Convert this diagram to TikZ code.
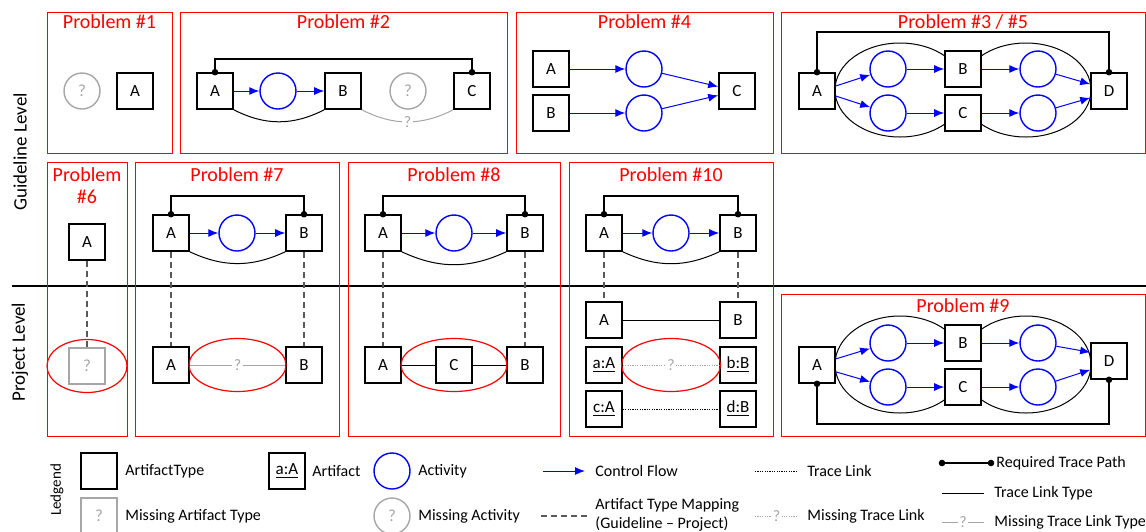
\documentclass[tikz,border=0pt]{standalone}
\usepackage{fontspec}
\setmainfont{Carlito}
\usepackage{tikz}
\usetikzlibrary{arrows.meta}
\usetikzlibrary{positioning}
\tikzstyle{atype}=[draw,fill=white,rectangle,minimum size=18pt,inner sep=0pt,line width=0.8pt,font=\fontsize{8.5}{10}\selectfont]
\tikzstyle{matype}=[atype,draw=black!35,text=black!35,line width=0.6pt]
\tikzstyle{activity}=[draw=blue,circle,minimum size=18pt,inner sep=0pt,line width=0.7pt]
\tikzstyle{mactivity}=[activity,draw=black!35,text=black!35,font=\fontsize{8.5}{10}\selectfont]
\tikzstyle{problem}=[draw=red,line width=0.5pt]
\tikzstyle{ptitle}=[text=red,font=\fontsize{10}{11}\selectfont,anchor=base,inner sep=0pt]
\tikzstyle{cflow}=[draw=blue,line width=0.5pt,-{Latex[length=5pt,width=4pt]}]
\tikzstyle{reqpath}=[line width=1pt,{Circle[length=3.2pt]}-{Circle[length=3.2pt]},shorten <=-1.6pt,shorten >=-1.6pt]
\tikzstyle{tltype}=[line width=0.5pt]
\tikzstyle{mtltype}=[line width=0.5pt,draw=black!35]
\tikzstyle{tlink}=[line width=0.5pt,dash pattern=on 0.6pt off 0.6pt]
\tikzstyle{mtlink}=[tlink,draw=black!35]
\tikzstyle{amap}=[line width=0.6pt,draw=black!65,dash pattern=on 3pt off 2pt]
\tikzstyle{qmark}=[fill=white,inner sep=0.8pt,text=black!35,font=\fontsize{8}{9}\selectfont]
\tikzstyle{miss}=[draw=red,line width=0.6pt]
\tikzstyle{lgtext}=[anchor=west,inner sep=0pt,font=\fontsize{8}{9.5}\selectfont]
\begin{document}
\begin{tikzpicture}[x=0.5pt,y=-0.5pt]
\useasboundingbox (0,0) rectangle (1146,531);

% levels
\node[rotate=90,font=\fontsize{9.5}{11}\selectfont] (glevel) at (20,152) {Guideline Level};
\node[rotate=90,font=\fontsize{9.5}{11}\selectfont] (plevel) at (20,352) {Project Level};
\draw[line width=0.6pt] (12,286) -- (1146,286);

% Problem 1
\draw[problem] (47,12) rectangle (172,153);
\node[ptitle] (t1) at (109.5,28) {Problem \#1};
\node[mactivity] (k1) at (82,91) {?};
\node[atype] (a1) at (135,91) {A};

% Problem 2
\draw[problem] (180,12) rectangle (507,153);
\node[ptitle] (t2) at (343.5,28) {Problem \#2};
\node[atype] (a2) at (215,91) {A};
\node[activity] (k2) at (278,91) {};
\node[atype] (b2) at (343,91) {B};
\node[mactivity] (k2m) at (408,91) {?};
\node[atype] (c2) at (472,91) {C};
\draw[cflow] (a2) -- (k2);
\draw[cflow] (k2) -- (b2);
\draw[tltype] (a2.south east) to[bend right=27] (b2.south west);
\draw[mtltype] (b2.south east) to[bend right=27] node[qmark] {?} (c2.south west);
\draw[reqpath] (a2.north) -- ++(0,-13) -| (c2.north);

% Problem 4
\draw[problem] (516,12) rectangle (773,153);
\node[ptitle] (t4) at (644.5,28) {Problem \#4};
\node[atype] (a4) at (551,69) {A};
\node[atype] (b4) at (551,113) {B};
\node[activity] (k4a) at (644,69) {};
\node[activity] (k4b) at (644,113) {};
\node[atype] (c4) at (737,91) {C};
\draw[cflow] (a4) -- (k4a);
\draw[cflow] (b4) -- (k4b);
\draw[cflow] (k4a) -- (c4.167);
\draw[cflow] (k4b) -- (c4.193);

% Problem 3 / 5
\draw[problem] (781,12) rectangle (1145,153);
\node[ptitle] (t35) at (963,28) {Problem \#3 / \#5};
\begin{scope}
  \clip (820,20) rectangle (945,150);
  \draw[tltype] (900,90) ellipse [x radius=65, y radius=47];
\end{scope}
\begin{scope}
  \clip (981,20) rectangle (1106,150);
  \draw[tltype] (1026,90) ellipse [x radius=65, y radius=47];
\end{scope}
\node[atype] (a35) at (817,91) {A};
\node[activity] (k35a) at (888,69) {};
\node[activity] (k35b) at (888,113) {};
\node[atype] (b35) at (963,69) {B};
\node[atype] (c35) at (963,113) {C};
\node[activity] (k35c) at (1038,69) {};
\node[activity] (k35d) at (1038,113) {};
\node[atype] (d35) at (1109,91) {D};
\draw[cflow] (a35.15) -- (k35a);
\draw[cflow] (a35.-15) -- (k35b);
\draw[cflow] (k35a) -- (b35);
\draw[cflow] (k35b) -- (c35);
\draw[cflow] (b35) -- (k35c);
\draw[cflow] (c35) -- (k35d);
\draw[cflow] (k35c) -- (d35.160);
\draw[cflow] (k35d) -- (d35.200);
\draw[reqpath] (a35.north) -- ++(0,-40) -| (d35.north);

% Problem 6
\draw[problem] (47,162) rectangle (127,436);
\node[ptitle,anchor=north,align=center] (t6) at (87,167) {Problem\\\#6};
\node[atype] (a6) at (87,242) {A};
\node[matype] (a6p) at (87,366) {?};
\draw[amap] (a6) -- (a6p);
\draw[miss] (87,366) ellipse [x radius=40, y radius=26.5];

% Problem 7
\draw[problem] (135,162) rectangle (339,436);
\node[ptitle] (t7) at (237,181) {Problem \#7};
\node[atype] (a7) at (171,233) {A};
\node[activity] (k7) at (237,233) {};
\node[atype] (b7) at (304,233) {B};
\node[atype] (a7p) at (171,365) {A};
\node[atype] (b7p) at (304,365) {B};
\draw[cflow] (a7) -- (k7);
\draw[cflow] (k7) -- (b7);
\draw[tltype] (a7.south east) to[bend right=25] (b7.south west);
\draw[reqpath] (a7.north) -- ++(0,-18) -| (b7.north);
\draw[amap] (a7) -- (a7p);
\draw[amap] (b7) -- (b7p);
\draw[mtltype] (a7p) -- node[qmark] {?} (b7p);
\draw[miss] (237.5,365) ellipse [x radius=48.5, y radius=26.5];

% Problem 8
\draw[problem] (348,162) rectangle (560,436);
\node[ptitle] (t8) at (454,181) {Problem \#8};
\node[atype] (a8) at (383,233) {A};
\node[activity] (k8) at (454,233) {};
\node[atype] (b8) at (525,233) {B};
\node[atype] (a8p) at (383,365) {A};
\node[atype] (c8p) at (454,365) {C};
\node[atype] (b8p) at (525,365) {B};
\draw[cflow] (a8) -- (k8);
\draw[cflow] (k8) -- (b8);
\draw[tltype] (a8.south east) to[bend right=25] (b8.south west);
\draw[reqpath] (a8.north) -- ++(0,-18) -| (b8.north);
\draw[amap] (a8) -- (a8p);
\draw[amap] (b8) -- (b8p);
\draw[tltype] (a8p) -- (c8p);
\draw[tltype] (c8p) -- (b8p);
\draw[miss] (454,365) ellipse [x radius=53, y radius=26.5];

% Problem 10
\draw[problem] (569,162) rectangle (773,436);
\node[ptitle] (t10) at (671,181) {Problem \#10};
\node[atype] (a10) at (604,233) {A};
\node[activity] (k10) at (671,233) {};
\node[atype] (b10) at (738,233) {B};
\node[atype] (a10p) at (604,320) {A};
\node[atype] (b10p) at (738,320) {B};
\node[atype] (aa10) at (604,365) {\underline{a:A}};
\node[atype] (bb10) at (738,365) {\underline{b:B}};
\node[atype] (cc10) at (604,409) {\underline{c:A}};
\node[atype] (dd10) at (738,409) {\underline{d:B}};
\draw[cflow] (a10) -- (k10);
\draw[cflow] (k10) -- (b10);
\draw[tltype] (a10.south east) to[bend right=25] (b10.south west);
\draw[reqpath] (a10.north) -- ++(0,-18) -| (b10.north);
\draw[amap] (a10) -- (a10p);
\draw[amap] (b10) -- (b10p);
\draw[tltype] (a10p) -- (b10p);
\draw[mtlink] (aa10) -- node[qmark] {?} (bb10);
\draw[tlink] (cc10) -- (dd10);
\draw[miss] (671,365) ellipse [x radius=49.5, y radius=26.5];

% Problem 9
\draw[problem] (781,294) rectangle (1145,436);
\node[ptitle] (t9) at (963,312) {Problem \#9};
\begin{scope}
  \clip (820,300) rectangle (945,430);
  \draw[tltype] (900,364.5) ellipse [x radius=65, y radius=48.5];
\end{scope}
\begin{scope}
  \clip (981,300) rectangle (1106,430);
  \draw[tltype] (1026,364.5) ellipse [x radius=65, y radius=48.5];
\end{scope}
\node[atype] (a9) at (817,365) {A};
\node[activity] (k9a) at (888,343) {};
\node[activity] (k9b) at (888,387) {};
\node[atype] (b9) at (963,343) {B};
\node[atype] (c9) at (963,387) {C};
\node[activity] (k9c) at (1038,343) {};
\node[activity] (k9d) at (1038,387) {};
\node[atype] (d9) at (1109,361) {D};
\draw[cflow] (a9.18) -- (k9a);
\draw[cflow] (a9.-20) -- (k9b);
\draw[cflow] (k9a) -- (b9);
\draw[cflow] (k9b) -- (c9);
\draw[cflow] (b9) -- (k9c);
\draw[cflow] (c9) -- (k9d);
\draw[cflow] (k9c) -- (d9.155);
\draw[cflow] (k9d) -- (d9.205);
\draw[reqpath] (a9.south) -- ++(0,40) -| (d9.south);

% legend
\node[rotate=90,font=\fontsize{7.5}{9}\selectfont] (lg) at (57,490) {Ledgend};
\node[atype] (lg1) at (99,471) {};
\node[lgtext] (lt1) at (125,471) {ArtifactType};
\node[atype] (lg2) at (287,471) {\underline{a:A}};
\node[lgtext] (lt2) at (312,471) {Artifact};
\node[activity] (lg3) at (392,471) {};
\node[lgtext] (lt3) at (418,471) {Activity};
\coordinate (lc4) at (543,471);
\coordinate (ld4) at (585,471);
\draw[cflow] (lc4) -- (ld4);
\node[lgtext] (lt4) at (595,471) {Control Flow};
\coordinate (lc5) at (755,471);
\coordinate (ld5) at (798,471);
\draw[tlink] (lc5) -- (ld5);
\node[lgtext] (lt5) at (807,471) {Trace Link};
\coordinate (lc6) at (942,463);
\coordinate (ld6) at (991,463);
\draw[reqpath] (lc6) -- (ld6);
\node[lgtext] (lt6) at (996,463) {Required Trace Path};
\coordinate (lc7) at (942,493);
\coordinate (ld7) at (984,493);
\draw[tltype] (lc7) -- (ld7);
\node[lgtext] (lt7) at (994,493) {Trace Link Type};
\node[matype] (lg8) at (99,516) {?};
\node[lgtext] (lt8) at (125,516) {Missing Artifact Type};
\node[mactivity] (lg9) at (392,516) {?};
\node[lgtext] (lt9) at (418,516) {Missing Activity};
\coordinate (lc10) at (541,516);
\coordinate (ld10) at (587,516);
\draw[amap] (lc10) -- (ld10);
\node[lgtext,align=left] (lt10) at (595,515) {Artifact Type Mapping\\(Guideline -- Project)};
\coordinate (lc11) at (755,516);
\coordinate (ld11) at (798,516);
\draw[mtlink] (lc11) -- node[qmark] {?} (ld11);
\node[lgtext] (lt11) at (807,516) {Missing Trace Link};
\coordinate (lc12) at (942,522);
\coordinate (ld12) at (984,522);
\draw[mtltype] (lc12) -- node[qmark] {?} (ld12);
\node[lgtext] (lt12) at (994,522) {Missing Trace Link Type};
\end{tikzpicture}
\end{document}
